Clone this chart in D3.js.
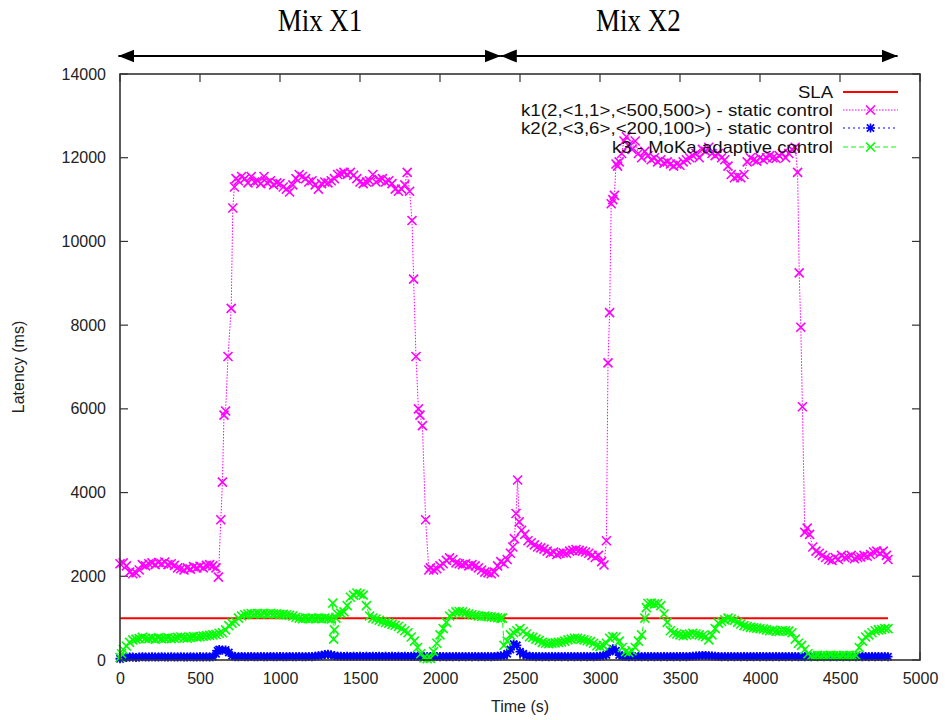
<!DOCTYPE html>
<html><head><meta charset="utf-8">
<script src="https://cdn.jsdelivr.net/npm/d3@7"></script>
<style>body{margin:0;background:#fff}svg{display:block}</style>
</head><body>
<svg id="c" width="945" height="720"></svg>
<script>
// ---------- data ----------
const xTicks = [0,500,1000,1500,2000,2500,3000,3500,4000,4500,5000];
const yTicks = [0,2000,4000,6000,8000,10000,12000,14000];
const slaValue = 1000;
const slaRange = [0, 4800];
const phases = ["Mix X1", "Mix X2"];
const phaseBounds = [[-10, 2380], [2380, 4860]];
const phaseLabelAt = [1250, 3240];
const seriesNames = ["SLA","k1(2,<1,1>,<500,500>) - static control","k2(2,<3,6>,<200,100>) - static control","k3 - MoKa adaptive control"];

// k1 : [time (s), latency (ms)]
const k1 = [[0,2300],[20,2320],[40,2250],[60,2100],[80,2060],[100,2080],[120,2150],[140,2280],[160,2250],[180,2300],[200,2320],[220,2280],[240,2330],[260,2300],[280,2340],[300,2280],[320,2300],[340,2260],[360,2200],[380,2180],[400,2150],[420,2200],[440,2170],[460,2230],[480,2200],[500,2240],[520,2200],[540,2260],[560,2280],[580,2250],[600,2200],[615,1980],[630,3350],[640,4250],[650,5850],[660,5950],[675,7250],[695,8400],[705,10800],[715,11300],[725,11500],[740,11450],[760,11550],[780,11500],[800,11400],[820,11550],[840,11420],[860,11450],[880,11380],[900,11550],[920,11400],[940,11450],[960,11350],[980,11400],[1000,11380],[1020,11300],[1040,11250],[1060,11180],[1080,11350],[1100,11500],[1120,11600],[1140,11550],[1160,11500],[1180,11420],[1200,11450],[1220,11350],[1240,11250],[1260,11380],[1280,11420],[1300,11400],[1320,11450],[1340,11500],[1360,11600],[1380,11620],[1400,11650],[1420,11600],[1440,11650],[1460,11580],[1480,11500],[1500,11420],[1520,11380],[1540,11420],[1560,11450],[1580,11600],[1600,11420],[1620,11480],[1640,11500],[1660,11420],[1680,11450],[1700,11380],[1720,11250],[1740,11200],[1760,11250],[1780,11350],[1795,11650],[1810,11200],[1825,10500],[1835,9100],[1850,7250],[1865,6000],[1875,5850],[1890,5600],[1910,3350],[1930,2150],[1940,2200],[1960,2150],[1980,2180],[2000,2250],[2020,2300],[2040,2380],[2060,2440],[2080,2400],[2100,2320],[2120,2300],[2140,2280],[2160,2300],[2180,2250],[2200,2280],[2220,2250],[2240,2200],[2260,2150],[2280,2100],[2300,2080],[2320,2060],[2340,2100],[2360,2250],[2380,2350],[2400,2300],[2420,2400],[2440,2550],[2455,2700],[2465,2900],[2475,3500],[2485,4300],[2495,3300],[2510,3100],[2530,3000],[2550,2850],[2570,2800],[2590,2750],[2610,2700],[2630,2680],[2650,2650],[2670,2600],[2690,2550],[2710,2580],[2730,2520],[2750,2550],[2770,2560],[2790,2550],[2810,2600],[2830,2620],[2850,2640],[2870,2620],[2890,2600],[2910,2580],[2930,2550],[2950,2500],[2970,2450],[2990,2500],[3010,2350],[3025,2270],[3040,2850],[3050,7100],[3060,8300],[3070,10900],[3080,11000],[3090,11100],[3100,11850],[3110,11800],[3120,11900],[3135,12100],[3150,12400],[3165,12500],[3180,12300],[3200,12200],[3220,12400],[3240,12100],[3260,12000],[3280,12150],[3300,12050],[3320,11950],[3340,12000],[3360,11900],[3380,11950],[3400,11870],[3420,11900],[3440,11850],[3460,11800],[3480,11850],[3500,11820],[3520,11900],[3540,11950],[3560,12000],[3580,12050],[3600,12100],[3620,12000],[3640,12200],[3660,12150],[3680,12250],[3700,12100],[3720,12050],[3740,12100],[3760,12000],[3780,11950],[3800,11800],[3820,11600],[3840,11520],[3860,11550],[3880,11520],[3900,11600],[3920,11900],[3940,12000],[3960,11950],[3980,11920],[4000,12000],[4020,11950],[4040,12000],[4060,12050],[4080,12000],[4100,11980],[4120,12050],[4140,12100],[4160,12000],[4180,12100],[4200,12200],[4220,12250],[4235,11650],[4245,9250],[4255,7950],[4265,6050],[4280,3050],[4295,3150],[4310,3000],[4330,2700],[4350,2600],[4370,2550],[4390,2500],[4410,2450],[4430,2400],[4450,2380],[4470,2450],[4490,2400],[4510,2500],[4530,2450],[4550,2460],[4570,2500],[4590,2420],[4610,2450],[4630,2460],[4650,2500],[4670,2480],[4690,2520],[4710,2580],[4730,2600],[4750,2550],[4770,2600],[4790,2500],[4800,2400]];

// k2 : [time (s), latency (ms)]
const k2 = [[0,30],[20,50],[40,60],[60,70],[80,70],[100,60],[120,70],[140,75],[160,70],[180,70],[200,75],[220,70],[240,70],[260,75],[280,70],[300,70],[320,75],[340,70],[360,70],[380,75],[400,70],[420,70],[440,75],[460,70],[480,70],[500,75],[520,70],[540,75],[560,70],[580,80],[600,150],[610,220],[620,250],[640,230],[660,240],[680,180],[700,100],[720,80],[740,80],[760,85],[780,80],[800,80],[820,85],[840,80],[860,80],[880,85],[900,80],[920,80],[940,85],[960,80],[980,80],[1000,85],[1020,80],[1040,80],[1060,85],[1080,80],[1100,80],[1120,85],[1140,80],[1160,80],[1180,85],[1200,80],[1220,90],[1240,100],[1260,110],[1280,130],[1300,140],[1320,120],[1340,100],[1360,90],[1380,90],[1400,85],[1420,90],[1440,85],[1460,90],[1480,85],[1500,90],[1520,85],[1540,90],[1560,85],[1580,90],[1600,85],[1620,90],[1640,85],[1660,90],[1680,85],[1700,90],[1720,85],[1740,90],[1760,85],[1780,90],[1800,85],[1820,90],[1840,85],[1860,90],[1880,85],[1900,80],[1920,80],[1940,85],[1960,80],[1980,85],[2000,80],[2020,85],[2040,80],[2060,85],[2080,80],[2100,85],[2120,80],[2140,85],[2160,80],[2180,85],[2200,80],[2220,85],[2240,80],[2260,85],[2280,80],[2300,85],[2320,80],[2340,85],[2360,90],[2380,100],[2400,100],[2420,150],[2440,250],[2460,380],[2480,350],[2500,200],[2520,150],[2540,100],[2560,90],[2580,85],[2600,80],[2620,85],[2640,80],[2660,85],[2680,80],[2700,85],[2720,80],[2740,85],[2760,80],[2780,85],[2800,80],[2820,85],[2840,80],[2860,85],[2880,80],[2900,85],[2920,80],[2940,85],[2960,80],[2980,85],[3000,90],[3020,100],[3040,120],[3060,200],[3080,270],[3100,220],[3120,120],[3140,90],[3160,85],[3180,80],[3200,85],[3220,80],[3240,85],[3260,80],[3280,85],[3300,80],[3320,85],[3340,80],[3360,85],[3380,80],[3400,85],[3420,80],[3440,85],[3460,80],[3480,85],[3500,80],[3520,85],[3540,80],[3560,85],[3580,90],[3600,95],[3620,100],[3640,110],[3660,105],[3680,100],[3700,95],[3720,90],[3740,85],[3760,80],[3780,85],[3800,80],[3820,85],[3840,80],[3860,85],[3880,80],[3900,85],[3920,80],[3940,85],[3960,80],[3980,85],[4000,80],[4020,85],[4040,80],[4060,85],[4080,80],[4100,85],[4120,80],[4140,85],[4160,80],[4180,85],[4200,80],[4220,85],[4240,80],[4260,85],[4280,80],[4300,85],[4320,80],[4340,85],[4360,80],[4380,85],[4400,80],[4420,85],[4440,80],[4460,85],[4480,80],[4500,85],[4520,80],[4540,85],[4560,80],[4580,85],[4600,80],[4620,85],[4640,80],[4660,85],[4680,80],[4700,85],[4720,80],[4740,85],[4760,80],[4780,85],[4800,80]];

// k3 : [time (s), latency (ms)]
const k3 = [[0,60],[10,150],[20,250],[40,330],[60,420],[80,480],[100,500],[120,510],[140,540],[160,520],[180,510],[200,520],[220,500],[240,530],[260,510],[280,520],[300,530],[320,510],[340,520],[360,540],[380,550],[400,530],[420,520],[440,540],[460,560],[480,550],[500,560],[520,570],[540,580],[560,590],[580,600],[600,610],[620,640],[640,650],[660,720],[680,820],[700,880],[720,920],[740,1000],[760,1050],[780,1080],[800,1100],[820,1110],[840,1100],[860,1110],[880,1100],[900,1110],[920,1100],[940,1110],[960,1100],[980,1100],[1000,1090],[1020,1090],[1040,1080],[1060,1070],[1080,1050],[1100,1020],[1120,1000],[1140,990],[1160,1000],[1180,990],[1200,1000],[1220,990],[1240,1000],[1260,990],[1280,1000],[1300,990],[1320,980],[1330,1360],[1335,500],[1340,720],[1350,1000],[1360,1100],[1380,1120],[1400,1150],[1420,1300],[1440,1500],[1460,1550],[1480,1600],[1500,1580],[1520,1550],[1540,1300],[1560,1050],[1580,1000],[1600,980],[1620,950],[1640,920],[1660,900],[1680,880],[1700,850],[1720,830],[1740,800],[1760,750],[1780,700],[1800,650],[1820,550],[1840,450],[1860,300],[1880,150],[1900,50],[1920,30],[1940,40],[1960,200],[1980,400],[2000,600],[2020,750],[2040,900],[2060,1050],[2080,1100],[2100,1150],[2120,1160],[2140,1150],[2160,1120],[2180,1100],[2200,1080],[2220,1070],[2240,1050],[2260,1040],[2280,1050],[2300,1040],[2320,1030],[2340,1020],[2360,1010],[2380,1000],[2390,1000],[2400,350],[2420,450],[2440,600],[2460,650],[2480,700],[2500,750],[2520,680],[2540,620],[2560,560],[2580,540],[2600,500],[2620,470],[2640,420],[2660,400],[2680,390],[2700,400],[2720,410],[2740,420],[2760,430],[2780,450],[2800,480],[2820,500],[2840,520],[2860,520],[2880,500],[2900,480],[2920,460],[2940,440],[2960,400],[2980,340],[3000,320],[3020,350],[3040,400],[3060,520],[3080,560],[3100,550],[3120,450],[3140,300],[3160,200],[3180,180],[3200,220],[3220,300],[3240,450],[3260,600],[3280,1000],[3290,1250],[3300,1350],[3320,1360],[3340,1340],[3360,1350],[3380,1300],[3400,1100],[3420,900],[3440,700],[3460,650],[3480,620],[3500,600],[3520,580],[3540,600],[3560,620],[3580,640],[3600,620],[3620,600],[3640,580],[3660,560],[3680,480],[3700,600],[3720,750],[3740,880],[3760,920],[3780,960],[3800,1000],[3820,980],[3840,950],[3860,900],[3880,860],[3900,820],[3920,800],[3940,780],[3960,770],[3980,760],[4000,750],[4020,740],[4040,720],[4060,700],[4080,710],[4100,690],[4120,680],[4140,700],[4160,700],[4180,690],[4200,650],[4220,500],[4240,400],[4260,350],[4280,250],[4300,150],[4320,100],[4340,100],[4360,110],[4380,100],[4400,105],[4420,100],[4440,110],[4460,100],[4480,105],[4500,100],[4520,110],[4540,100],[4560,105],[4580,100],[4600,110],[4620,300],[4640,450],[4660,550],[4680,600],[4700,650],[4720,700],[4740,720],[4760,730],[4780,750],[4800,750]];

// ---------- drawing ----------
const svg = d3.select("#c");
const L = 120, R = 920, T = 74, B = 660;
const x = d3.scaleLinear().domain([0,5000]).range([L,R]);
const y = d3.scaleLinear().domain([0,14000]).range([B,T]);
const font = "'Liberation Sans', Arial, sans-serif";

// phase arrows
const defs = svg.append("defs");
function mk(id, orient){
  defs.append("marker").attr("id",id).attr("viewBox","0 0 10 10").attr("refX",10).attr("refY",5)
    .attr("markerWidth",16).attr("markerHeight",16).attr("markerUnits","userSpaceOnUse").attr("orient",orient)
    .append("path").attr("d","M0,1 L10,5 L0,9 Z").attr("fill","#000");
}
mk("ah","auto"); mk("ahs","auto-start-reverse");
phaseBounds.forEach((pb,i)=>{
  svg.append("line").attr("x1",x(pb[0])).attr("x2",x(pb[1])).attr("y1",56).attr("y2",56)
    .attr("stroke","#000").attr("stroke-width",2.2)
    .attr("marker-start","url(#ahs)").attr("marker-end","url(#ah)");
  svg.append("text").attr("transform",`translate(${x(phaseLabelAt[i])},31) scale(1,1.15)`)
    .attr("text-anchor","middle").attr("font-family","'Liberation Serif','Times New Roman',serif")
    .attr("font-size",27).attr("fill","#000").text(phases[i]);
});

// axes
const g = svg.append("g");
const yAx = d3.axisLeft(y).tickValues(yTicks).tickSize(0).tickPadding(14).tickFormat(d3.format("d"));
const xAx = d3.axisBottom(x).tickValues(xTicks).tickSize(0).tickPadding(13).tickFormat(d3.format("d"));
g.append("g").attr("transform",`translate(${L},0)`).call(yAx);
g.append("g").attr("transform",`translate(0,${B})`).call(xAx);
g.selectAll(".domain").remove();
g.selectAll(".tick text").attr("font-family",font).attr("font-size",16).attr("fill","#222");
const tk = 8;
yTicks.forEach(v=>{
  g.append("line").attr("x1",L).attr("x2",L+tk).attr("y1",y(v)).attr("y2",y(v)).attr("stroke","#333").attr("stroke-width",1.2);
  g.append("line").attr("x1",R).attr("x2",R-tk).attr("y1",y(v)).attr("y2",y(v)).attr("stroke","#333").attr("stroke-width",1.2);
});
xTicks.forEach(v=>{
  g.append("line").attr("x1",x(v)).attr("x2",x(v)).attr("y1",B).attr("y2",B-tk).attr("stroke","#333").attr("stroke-width",1.2);
  g.append("line").attr("x1",x(v)).attr("x2",x(v)).attr("y1",T).attr("y2",T+tk).attr("stroke","#333").attr("stroke-width",1.2);
});

svg.append("text").attr("x",(L+R)/2).attr("y",712).attr("text-anchor","middle")
  .attr("font-family",font).attr("font-size",16).attr("fill","#222").text("Time (s)");
svg.append("text").attr("transform",`translate(24,${(T+B)/2}) rotate(-90)`).attr("text-anchor","middle")
  .attr("font-family",font).attr("font-size",16).attr("fill","#222").text("Latency (ms)");

// series
const plot = svg.append("g");
const line = d3.line().x(d=>x(d[0])).y(d=>y(d[1]));
function xMark(s){return `M${-s},${-s}L${s},${s}M${-s},${s}L${s},${-s}`;}
function starMark(s){return xMark(s*0.8)+`M${-s},0L${s},0M0,${-s}L0,${s}`;}

plot.append("path").datum([[slaRange[0],slaValue],[slaRange[1],slaValue]]).attr("d",line)
  .attr("fill","none").attr("stroke","#ff0000").attr("stroke-width",2);

const styles = [
  {data:k1, color:"#ff00ff", dash:"1.5,1.5", mark:xMark(4.5), sw:1.6},
  {data:k2, color:"#0000ff", dash:"2,3", mark:starMark(4.5), sw:1.8},
  {data:k3, color:"#00ff00", dash:"5,3", mark:xMark(4.5), sw:1.6}
];
styles.forEach(s=>{
  plot.append("path").datum(s.data).attr("d",line).attr("fill","none")
    .attr("stroke",s.color).attr("stroke-width",1).attr("stroke-dasharray",s.dash);
  plot.append("g").selectAll("path").data(s.data).join("path")
    .attr("transform",d=>`translate(${x(d[0])},${y(d[1])})`).attr("d",s.mark)
    .attr("fill","none").attr("stroke",s.color).attr("stroke-width",s.sw);
});

// frame
svg.append("rect").attr("x",L).attr("y",T).attr("width",R-L).attr("height",B-T)
  .attr("fill","none").attr("stroke","#333").attr("stroke-width",1.6);

// legend
const lg = svg.append("g");
const rowsY = [92,110,128,147];
const textW = [35,312,312,221];
seriesNames.forEach((n,i)=>{
  lg.append("text").attr("x",833).attr("y",rowsY[i]+6).attr("text-anchor","end")
    .attr("font-family",font).attr("font-size",17).attr("fill","#111")
    .attr("textLength",textW[i]).attr("lengthAdjust","spacingAndGlyphs").text(n);
  if(i===0){
    lg.append("line").attr("x1",843).attr("x2",898).attr("y1",rowsY[i]).attr("y2",rowsY[i])
      .attr("stroke","#ff0000").attr("stroke-width",2);
  } else {
    const s = styles[i-1];
    lg.append("line").attr("x1",843).attr("x2",898).attr("y1",rowsY[i]).attr("y2",rowsY[i])
      .attr("stroke",s.color).attr("stroke-width",1.2).attr("stroke-dasharray",s.dash);
    lg.append("path").attr("transform",`translate(870.5,${rowsY[i]})`).attr("d",s.mark)
      .attr("fill","none").attr("stroke",s.color).attr("stroke-width",1.6);
  }
});
</script>
</body></html>
